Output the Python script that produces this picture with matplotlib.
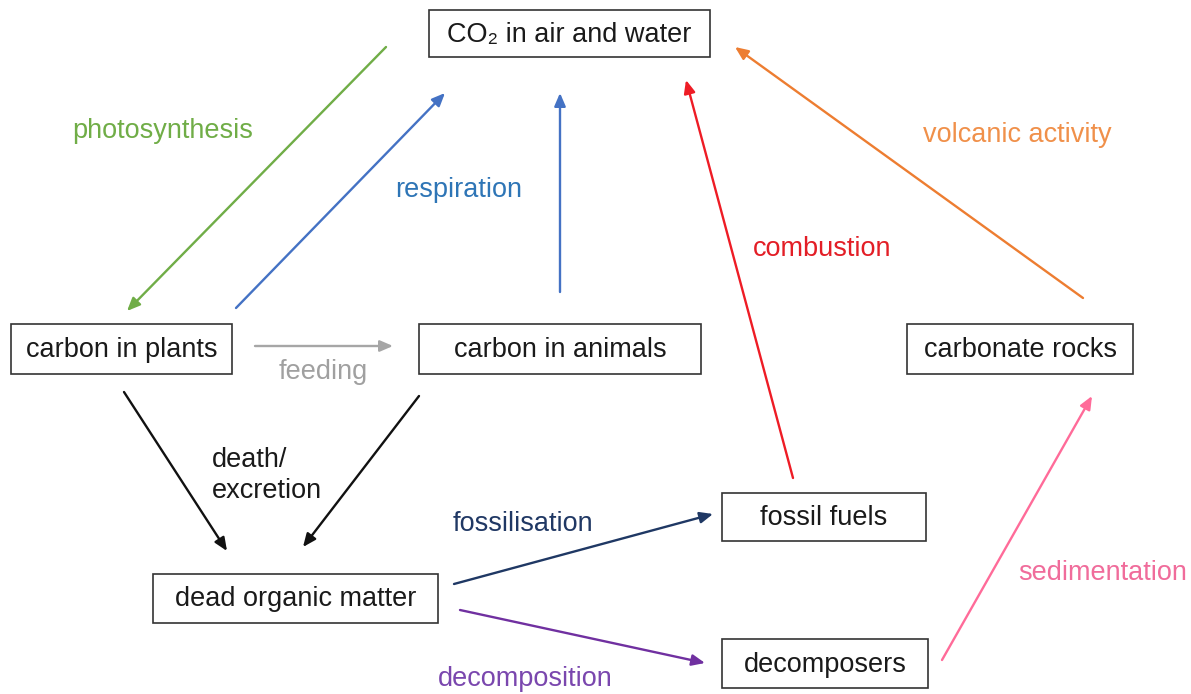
import matplotlib
matplotlib.use("Agg")
import matplotlib.pyplot as plt
from matplotlib.patches import Rectangle, FancyArrowPatch

plt.rcParams['font.family'] = ['Liberation Sans', 'DejaVu Sans']

# ---- data ----
node_names = ["CO\u2082 in air and water", "carbon in plants", "carbon in animals",
              "carbonate rocks", "dead organic matter", "fossil fuels", "decomposers"]
# boxes: x0, y0, x1, y1 (pixel coords, y downward)
node_boxes = [(429, 10, 710, 57), (11, 324, 232, 374), (419, 324, 701, 374),
              (907, 324, 1133, 374), (153, 574, 438, 623), (722, 493, 926, 541),
              (722, 639, 928, 688)]

# arrows: start, end, colour
arrow_starts = [(386, 47), (236, 308), (560, 292), (793, 478), (1083, 298),
                (942, 660), (460, 610), (454, 584), (255, 346), (124, 392), (419, 396)]
arrow_ends = [(127, 311), (445, 93), (560, 93), (686, 80), (735, 47),
              (1092, 396), (705, 663), (713, 514), (393, 346), (227, 551), (303, 547)]
arrow_colors = ["#70AD47", "#4472C4", "#4472C4", "#EE1C25", "#ED7D31",
                "#FF6B99", "#7030A0", "#1F3864", "#A6A6A6", "#111111", "#111111"]

edge_labels = ["photosynthesis", "respiration", "combustion", "volcanic activity",
               "feeding", "death/\nexcretion", "fossilisation", "decomposition", "sedimentation"]
label_pos = [(163, 131), (459, 190), (822, 249), (1017, 135),
             (323, 372), (212, 475), (523, 524), (525, 679), (1103, 573)]
label_colors = ["#70AD47", "#2E75B6", "#E31E26", "#F0904A",
                "#A0A0A0", "#1A1A1A", "#203864", "#7A47AE", "#F06C9B"]
label_ha = ["center", "center", "center", "center",
            "center", "left", "center", "center", "center"]

W, H = 1191, 694
fig = plt.figure(figsize=(W / 100, H / 100), dpi=100)
ax = fig.add_axes([0, 0, 1, 1])
ax.set_xlim(0, W)
ax.set_ylim(H, 0)
ax.axis('off')

FS = 19.5

for name, (x0, y0, x1, y1) in zip(node_names, node_boxes):
    ax.add_patch(Rectangle((x0, y0), x1 - x0, y1 - y0, fill=False,
                           edgecolor="#333333", linewidth=1.2))
    ax.text((x0 + x1) / 2, (y0 + y1) / 2 + 1, name, ha='center', va='center',
            fontsize=FS, color="#1A1A1A")

for s, e, c in zip(arrow_starts, arrow_ends, arrow_colors):
    ax.add_patch(FancyArrowPatch(s, e, arrowstyle='-|>,head_length=0.65,head_width=0.28',
                                 mutation_scale=12, color=c, linewidth=1.7,
                                 shrinkA=0, shrinkB=0))

for t, (x, y), c, ha in zip(edge_labels, label_pos, label_colors, label_ha):
    ax.text(x, y, t, ha=ha, va='center', fontsize=FS, color=c, linespacing=1.25)

fig.savefig("out.png", dpi=100)
